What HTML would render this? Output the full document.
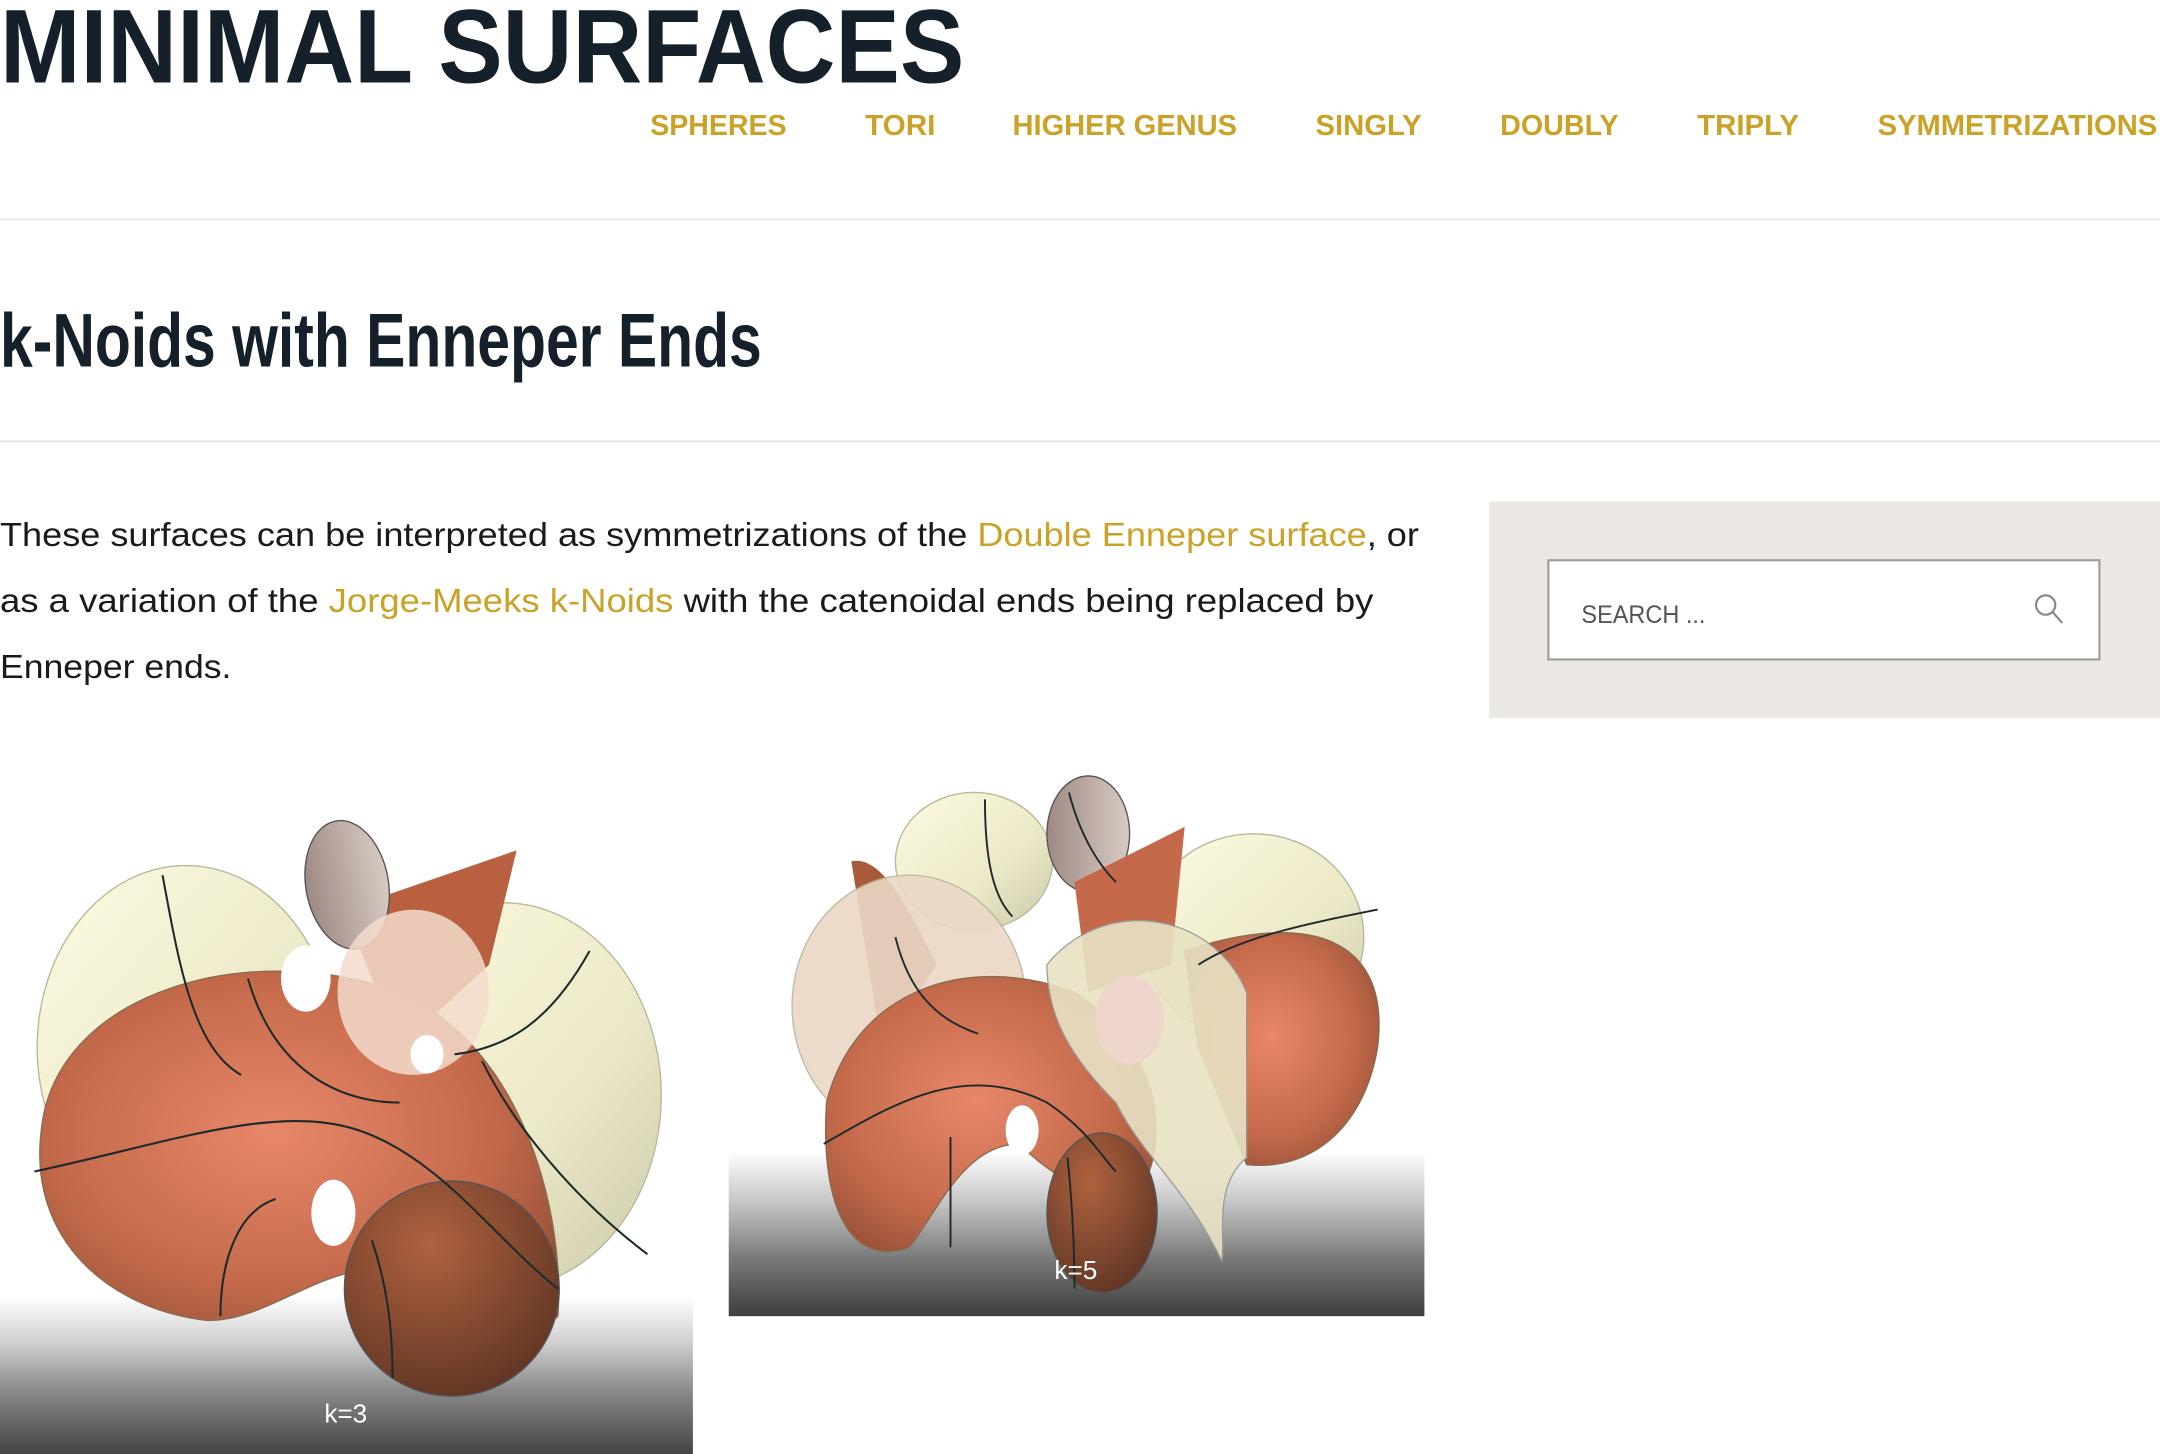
<!DOCTYPE html>
<html><head><meta charset="utf-8"><style>
html,body{margin:0;padding:0;background:#fff;width:2160px;height:1454px;overflow:hidden}
svg{display:block}
text{font-family:"Liberation Sans",Arial,sans-serif}
</style></head><body>
<svg width="2160" height="1454" viewBox="0 0 1568 1055" preserveAspectRatio="none">
<defs>
<linearGradient id="floorL" x1="0" y1="0" x2="0" y2="1"><stop offset="0" stop-color="#fff"/><stop offset="0.3" stop-color="#cfcfcf"/><stop offset="0.6" stop-color="#8a8a8a"/><stop offset="1" stop-color="#444"/></linearGradient>
<linearGradient id="floorR" x1="0" y1="0" x2="0" y2="1"><stop offset="0" stop-color="#fff"/><stop offset="0.3" stop-color="#c8c8c8"/><stop offset="0.65" stop-color="#7a7a7a"/><stop offset="1" stop-color="#3e3e3e"/></linearGradient>
<radialGradient id="org" cx="0.45" cy="0.45" r="0.7"><stop offset="0" stop-color="#e8876a"/><stop offset="0.6" stop-color="#c46a4b"/><stop offset="1" stop-color="#8a4a32"/></radialGradient>
<radialGradient id="org2" cx="0.4" cy="0.3" r="0.8"><stop offset="0" stop-color="#b0623f"/><stop offset="1" stop-color="#5a3222"/></radialGradient>
<linearGradient id="crm" x1="0" y1="0" x2="1" y2="1"><stop offset="0" stop-color="#fdfbe2"/><stop offset="0.6" stop-color="#ece9c8"/><stop offset="1" stop-color="#c9c8a8"/></linearGradient>
<linearGradient id="mauve" x1="0" y1="0" x2="1" y2="0"><stop offset="0" stop-color="#9e8a84"/><stop offset="1" stop-color="#d8cbc4"/></linearGradient>
</defs>

<text x="0" y="60" font-size="76" font-weight="bold" fill="#15202b" textLength="700" lengthAdjust="spacingAndGlyphs">MINIMAL SURFACES</text>

<g font-size="21" font-weight="bold" fill="#c9a227">
<text x="472" y="98" textLength="99" lengthAdjust="spacingAndGlyphs">SPHERES</text>
<text x="628" y="98" textLength="51" lengthAdjust="spacingAndGlyphs">TORI</text>
<text x="735" y="98" textLength="163" lengthAdjust="spacingAndGlyphs">HIGHER GENUS</text>
<text x="955" y="98" textLength="77" lengthAdjust="spacingAndGlyphs">SINGLY</text>
<text x="1089" y="98" textLength="86" lengthAdjust="spacingAndGlyphs">DOUBLY</text>
<text x="1232" y="98" textLength="74" lengthAdjust="spacingAndGlyphs">TRIPLY</text>
<text x="1363" y="98" textLength="203" lengthAdjust="spacingAndGlyphs">SYMMETRIZATIONS</text>
</g>

<rect x="0" y="158.5" width="1568" height="1.5" fill="#e6e6e6"/>
<text x="0" y="266" font-size="55" font-weight="bold" fill="#15202b" textLength="553" lengthAdjust="spacingAndGlyphs">k-Noids with Enneper Ends</text>
<rect x="0" y="319.5" width="1568" height="1.5" fill="#e6e6e6"/>

<g font-size="24" fill="#1a1a1a">
<text x="0" y="396" textLength="1030" lengthAdjust="spacingAndGlyphs">These surfaces can be interpreted as symmetrizations of the <tspan fill="#c9a227">Double Enneper surface</tspan>, or</text>
<text x="0" y="444" textLength="997" lengthAdjust="spacingAndGlyphs">as a variation of the <tspan fill="#c9a227">Jorge-Meeks k-Noids</tspan> with the catenoidal ends being replaced by</text>
<text x="0" y="492" textLength="168" lengthAdjust="spacingAndGlyphs">Enneper ends.</text>
</g>

<g>
<rect x="1081" y="364" width="487" height="157" fill="#ebe7e2"/>
<rect x="1124" y="406.5" width="400" height="72" fill="#fff" stroke="#9a9a9a" stroke-width="1.5"/>
<text x="1148" y="452" font-size="18" fill="#555" textLength="90" lengthAdjust="spacingAndGlyphs">SEARCH ...</text>
<g stroke="#888" stroke-width="1.6" fill="none"><circle cx="1485" cy="439" r="7"/><line x1="1490" y1="444" x2="1497" y2="452"/></g>
</g>

<!-- left image k=3 -->
<g>
<rect x="0" y="940" width="503" height="115" fill="url(#floorL)"/>
<ellipse cx="135" cy="760" rx="108" ry="132" fill="url(#crm)" stroke="#b8b89a"/>
<ellipse cx="365" cy="795" rx="115" ry="140" fill="url(#crm)" stroke="#b8b89a"/>
<path d="M250 660 L375 617 L355 700 L290 760 Z" fill="#b8603f"/>
<ellipse cx="252" cy="642" rx="30" ry="47" transform="rotate(-10 252 642)" fill="url(#mauve)" stroke="#555"/>
<path d="M30 820 C40 720 180 680 290 720 C380 760 410 880 405 955 C380 980 320 960 300 930 C250 900 200 960 150 958 C80 950 20 900 30 820 Z" fill="url(#org)" stroke="#8a6a50"/>
<ellipse cx="328" cy="935" rx="78" ry="78" fill="url(#org2)" stroke="#555"/>
<ellipse cx="300" cy="720" rx="55" ry="60" fill="#f3dccd" opacity="0.85"/>
<ellipse cx="222" cy="710" rx="18" ry="24" fill="#fff"/>
<ellipse cx="310" cy="765" rx="12" ry="14" fill="#fff"/>
<ellipse cx="242" cy="880" rx="16" ry="24" fill="#fff"/>
<g fill="none" stroke="#1e2a2a" stroke-width="1.5">
<path d="M25 850 C120 830 200 800 260 820 C320 840 360 900 405 935"/>
<path d="M118 635 C130 700 140 760 175 780"/>
<path d="M428 690 C400 740 370 760 330 765"/>
<path d="M180 710 C200 780 250 800 290 800"/>
<path d="M160 955 C160 920 170 880 200 870"/>
<path d="M285 1000 C285 960 280 930 270 900"/>
<path d="M470 910 C430 880 380 830 350 770"/>
</g>
<text x="251" y="1032" font-size="19" fill="#fff" text-anchor="middle">k=3</text>
</g>

<!-- right image k=5 -->
<g>
<rect x="529" y="835" width="505" height="120" fill="url(#floorR)"/>
<ellipse cx="707" cy="625" rx="57" ry="50" fill="url(#crm)" stroke="#b8b89a"/>
<ellipse cx="790" cy="605" rx="30" ry="42" fill="url(#mauve)" stroke="#555"/>
<ellipse cx="910" cy="680" rx="80" ry="75" fill="url(#crm)" stroke="#b8b89a"/>
<path d="M618 625 C640 620 660 660 680 700 L640 760 Z" fill="#a85a3a"/>
<path d="M780 640 L860 600 L850 700 L790 720 Z" fill="#c46a4b"/>
<path d="M860 690 C950 660 1010 680 1000 760 C990 820 950 850 905 845 L870 760 Z" fill="url(#org)" stroke="#8a6a50"/>
<ellipse cx="660" cy="730" rx="85" ry="95" fill="#ead8c6" opacity="0.9" stroke="#b8b89a"/>
<path d="M600 800 C620 720 700 690 780 720 C840 760 850 820 830 860 C800 880 760 850 740 830 C700 830 680 880 660 905 C620 920 595 880 600 800 Z" fill="url(#org)" stroke="#8a6a50"/>
<ellipse cx="800" cy="880" rx="40" ry="58" fill="url(#org2)" stroke="#555"/>
<path d="M760 700 C800 650 880 660 905 720 L905 840 C880 860 890 900 887 915 C860 860 830 840 810 800 C780 770 760 740 760 700 Z" fill="#e8e2c4" opacity="0.9" stroke="#999"/>
<ellipse cx="820" cy="740" rx="25" ry="32" fill="#efd6cc"/>
<ellipse cx="742" cy="820" rx="12" ry="18" fill="#fff"/>
<g fill="none" stroke="#1e2a2a" stroke-width="1.4">
<path d="M598 830 C650 800 700 770 760 800 C790 820 800 840 810 850"/>
<path d="M1000 660 C950 670 900 680 870 700"/>
<path d="M715 580 C715 620 720 650 735 665"/>
<path d="M776 575 C785 610 800 630 810 640"/>
<path d="M690 905 C690 870 690 840 690 825"/>
<path d="M780 935 C780 900 778 870 775 840"/>
<path d="M650 680 C660 720 680 740 710 750"/>
</g>
<text x="781" y="928" font-size="19" fill="#fff" text-anchor="middle">k=5</text>
</g>
</svg>
</body></html>
